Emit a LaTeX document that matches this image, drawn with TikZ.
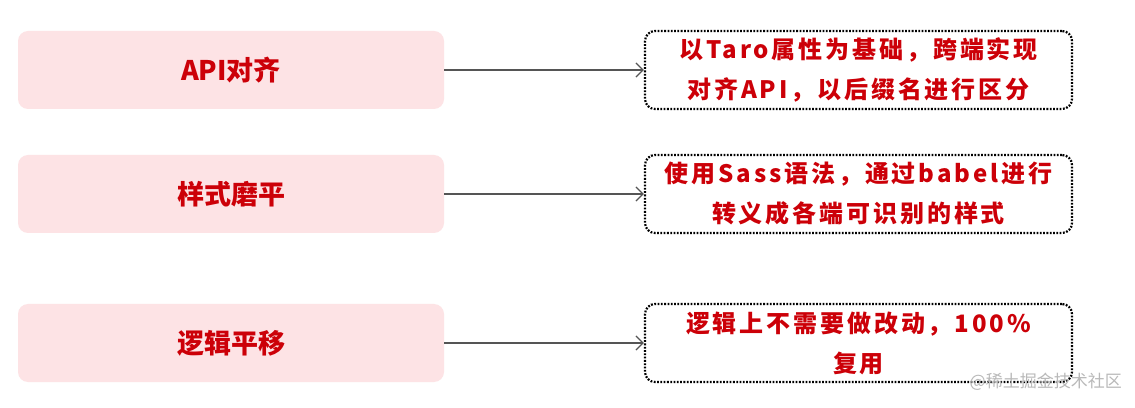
\documentclass[tikz,border=0pt]{standalone}
\usepackage{fontspec}
\setmainfont{Noto Sans CJK SC}
\usetikzlibrary{arrows.meta}
\definecolor{txtred}{RGB}{204,0,8}
\definecolor{boxpink}{RGB}{253,227,229}
\definecolor{arrowgray}{RGB}{85,85,85}
\definecolor{markgray}{RGB}{185,185,185}
\newfontfamily\spacedcjk[LetterSpace=12]{Noto Sans CJK SC}
\begin{document}
\begin{tikzpicture}[x=1pt,y=1pt,
  leftbox/.style={draw=none, fill=boxpink, rounded corners=10pt, minimum width=426pt, minimum height=78pt, inner sep=0pt,
    text=txtred, font=\fontsize{27}{30}\selectfont\bfseries},
  rightbox/.style={draw=black, line width=2.2pt, dash pattern=on 1.8pt off 1.5pt, rounded corners=10pt, fill=white, minimum width=427pt, minimum height=78pt, inner sep=0pt,
    text=txtred, align=center, font=\spacedcjk\fontsize{24}{40}\selectfont\bfseries},
  link/.style={draw=arrowgray, line width=1.3pt, -{Straight Barb[length=7pt,width=14pt,line width=1.3pt]}}
]
\useasboundingbox (0,0) rectangle (1135,407);
\fill[white] (0,0) rectangle (1135,407);
\node[leftbox] (l1) at (231,337) {API对齐};
\node[leftbox] (l2) at (231,213) {样式磨平};
\node[leftbox] (l3) at (231,64) {逻辑平移};
\node[rightbox] (r1) at (858.5,337) {以Taro属性为基础，跨端实现\\对齐API，以后缀名进行区分};
\node[rightbox] (r2) at (858.5,213) {使用Sass语法，通过babel进行\\转义成各端可识别的样式};
\node[rightbox] (r3) at (858.5,64) {逻辑上不需要做改动，100\%\\复用};
\draw[link] (l1) -- (r1);
\draw[link] (l2) -- (r2);
\draw[link] (l3) -- (r3);
\node[text=markgray, font=\fontsize{17}{20}\selectfont, anchor=east, inner sep=0pt] (wm) at (1122,25) {@稀土掘金技术社区};
\end{tikzpicture}
\end{document}
